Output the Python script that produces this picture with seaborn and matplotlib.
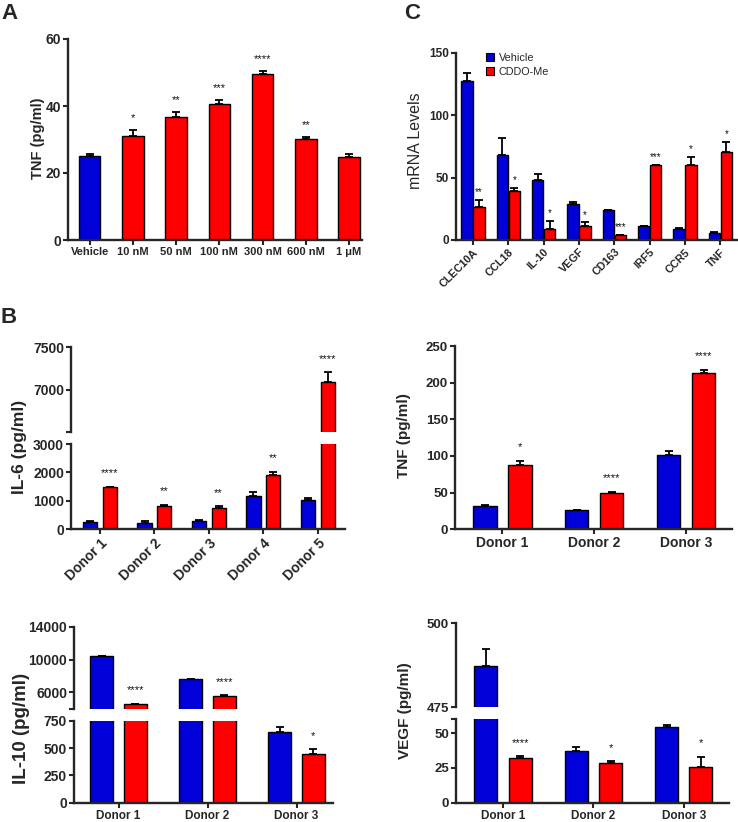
import numpy as np
import pandas as pd
import matplotlib
matplotlib.use("Agg")
import matplotlib.pyplot as plt
import seaborn as sns
from matplotlib.patches import Patch
from matplotlib.container import BarContainer

# ---------------- data ----------------
a_labels = ["Vehicle", "10 nM", "50 nM", "100 nM", "300 nM", "600 nM", "1 μM"]
a_tnf = [25.0, 31.0, 36.8, 40.5, 49.5, 30.1, 24.8]
a_err = [0.8, 1.7, 1.5, 1.3, 1.0, 0.6, 1.0]
a_stars = ["", "*", "**", "***", "****", "**", ""]

c_genes = ["CLEC10A", "CCL18", "IL-10", "VEGF", "CD163", "IRF5", "CCR5", "TNF"]
c_vehicle = [127.3, 67.8, 48.0, 29.1, 23.8, 11.2, 8.5, 5.9]
c_vehicle_err = [6.1, 13.9, 4.6, 1.3, 0.3, 0.3, 1.4, 0.3]
c_cddo = [26.7, 39.2, 8.8, 11.5, 3.7, 59.8, 60.3, 70.7]
c_cddo_err = [5.3, 2.2, 6.2, 2.6, 0.2, 0.3, 6.4, 8.0]
c_stars = ["**", "*", "*", "*", "***", "***", "*", "*"]

donors5 = ["Donor 1", "Donor 2", "Donor 3", "Donor 4", "Donor 5"]
il6_vehicle = [258, 211, 281, 1184, 1043]
il6_vehicle_err = [20, 82, 40, 116, 47]
il6_cddo = [1477, 832, 762, 1922, 7085]
il6_cddo_err = [20, 35, 58, 105, 122]
il6_stars = ["****", "**", "**", "**", "****"]

donors3 = ["Donor 1", "Donor 2", "Donor 3"]
tnf_vehicle = [32.3, 25.9, 100.9]
tnf_vehicle_err = [0.7, 0.6, 6.4]
tnf_cddo = [87.7, 50.0, 213.6]
tnf_cddo_err = [5.9, 1.0, 4.1]
tnf_stars = ["*", "****", "****"]

il10_vehicle = [10366, 7585, 650]
il10_vehicle_err = [60, 60, 40]
il10_cddo = [4537, 5585, 445]
il10_cddo_err = [50, 50, 44]
il10_stars = ["****", "****", "*"]

vegf_vehicle = [487.4, 37.2, 54.2]
vegf_vehicle_err = [4.9, 2.9, 1.9]
vegf_cddo = [31.8, 28.9, 26.0]
vegf_cddo_err = [1.7, 1.0, 7.1]
vegf_stars = ["****", "*", "*"]

treatments = ["Vehicle", "CDDO-Me"]
BLUE = "#0000d8"
RED = "#ff0000"

# ---------------- style ----------------
sns.set_theme(style="ticks")
plt.rcParams["font.family"] = ["Liberation Sans", "DejaVu Sans"]
plt.rcParams["font.weight"] = "bold"

W, H = 738, 822
fig = plt.figure(figsize=(W / 100, H / 100), dpi=100)


def add_ax(l, t, r, b):
    return fig.add_axes([l / W, 1 - b / H, (r - l) / W, (b - t) / H])


def ftext(x, y, s, **kw):
    return fig.text(x / W, 1 - y / H, s, **kw)


def style(ax, bottom=True, ysize=10, xsize=8):
    for s in ["top", "right"]:
        ax.spines[s].set_visible(False)
    ax.spines["left"].set_linewidth(1.7)
    ax.spines["bottom"].set_linewidth(1.7)
    if not bottom:
        ax.spines["bottom"].set_visible(False)
        ax.tick_params(axis="x", bottom=False, labelbottom=False)
    ax.tick_params(axis="both", width=1.5, length=3.5, direction="out", pad=1.5)
    ax.tick_params(axis="y", labelsize=ysize)
    ax.tick_params(axis="x", labelsize=xsize)
    ax.set_xlabel("")
    ax.set_ylabel("")
    ax.patch.set_alpha(0)


def two_group_df(cats, v, ve, c, ce):
    rows = []
    for i, cat in enumerate(cats):
        rows.append((cat, "Vehicle", v[i], ve[i]))
        rows.append((cat, "CDDO-Me", c[i], ce[i]))
    return pd.DataFrame(rows, columns=["cat", "treat", "val", "err"])


def draw_pair(ax, df, cats, width, gap):
    sns.barplot(data=df, x="cat", y="val", hue="treat", order=cats,
                hue_order=treatments, palette=[BLUE, RED], width=width,
                gap=gap, edgecolor="black", linewidth=1.0, errorbar=None,
                legend=False, saturation=1, ax=ax)


def bar_info(ax, cats, df):
    """(x_center, value, err, cat, treat) for every drawn bar"""
    out = []
    for cont in ax.containers:
        if not isinstance(cont, BarContainer):
            continue
        for bar in cont:
            if bar is None:
                continue
            xc = bar.get_x() + bar.get_width() / 2
            k = int(round(xc))
            off = xc - k
            cat = cats[k]
            sub = df[df["cat"] == cat]
            if "treat" in df.columns:
                treat = "Vehicle" if off < 0 else "CDDO-Me"
                sub = sub[sub["treat"] == treat]
            else:
                treat = None
            r = sub.iloc[0]
            out.append((xc, r["val"], r["err"], cat, treat))
    return out


def add_errbars(ax, info):
    for xc, v, e, cat, treat in info:
        ax.errorbar([xc], [v], yerr=[[0], [e]], fmt="none", ecolor="black",
                    elinewidth=1.3, capsize=2.8, capthick=1.3, zorder=1)


def add_stars(axes_list, info, cats, stars, size=8, off=4):
    for xc, v, e, cat, treat in info:
        if treat == "Vehicle":
            continue
        s = stars[cats.index(cat)]
        if not s:
            continue
        top = v + e
        target = axes_list[-1]
        for a in axes_list:
            lo, hi = a.get_ylim()
            if lo <= top <= hi:
                target = a
        target.annotate(s, (xc, top), xytext=(0, off), textcoords="offset points",
                        ha="center", va="bottom", fontsize=size,
                        fontweight="normal", color="#111111")


# ---------------- Panel A ----------------
dfa = pd.DataFrame({"cat": a_labels, "val": a_tnf, "err": a_err})
axA = add_ax(68, 39, 362, 240)
sns.barplot(data=dfa, x="cat", y="val", hue="cat", order=a_labels,
            hue_order=a_labels, palette=[BLUE] + [RED] * 6, width=0.5,
            edgecolor="black", linewidth=1.0, errorbar=None, legend=False,
            saturation=1, ax=axA)
axA.set_xlim(-0.5, 6.3)
axA.set_ylim(0, 60)
axA.set_yticks([0, 20, 40, 60])
style(axA, ysize=10, xsize=8)
infoA = bar_info(axA, a_labels, dfa)
add_errbars(axA, infoA)
add_stars([axA], infoA, a_labels, a_stars, size=8, off=5)
ftext(38, 138, "TNF (pg/ml)", rotation=90, ha="center", va="center", fontsize=10.5)

# ---------------- Panel C ----------------
dfc = two_group_df(c_genes, c_vehicle, c_vehicle_err, c_cddo, c_cddo_err)
axC = add_ax(456, 52.7, 738, 240)
draw_pair(axC, dfc, c_genes, width=0.68, gap=0.05)
axC.set_xlim(-0.48, 7.5)
axC.set_ylim(0, 150)
axC.set_yticks([0, 50, 100, 150])
style(axC, ysize=8.5, xsize=7.8)
for lbl in axC.get_xticklabels():
    lbl.set_rotation(45)
    lbl.set_ha("right")
    lbl.set_rotation_mode("anchor")
infoC = bar_info(axC, c_genes, dfc)
add_errbars(axC, infoC)
add_stars([axC], infoC, c_genes, c_stars, size=7, off=2)
ftext(415, 141, "mRNA Levels", rotation=90, ha="center", va="center",
      fontsize=11.5, fontweight="normal")
handles = [Patch(facecolor=BLUE, edgecolor="black", linewidth=0.8, label="Vehicle"),
           Patch(facecolor=RED, edgecolor="black", linewidth=0.8, label="CDDO-Me")]
leg = axC.legend(handles=handles, loc="upper left", bbox_to_anchor=((476 - 456) / 282, 1.05),
                 frameon=False, handlelength=0.8, handleheight=0.8, handletextpad=0.4,
                 labelspacing=0.35, prop={"size": 7.8, "weight": "normal"})

# ---------------- Panel B: IL-6 (broken) ----------------
df6 = two_group_df(donors5, il6_vehicle, il6_vehicle_err, il6_cddo, il6_cddo_err)
ax6u = add_ax(71, 347.3, 345, 431.7)
ax6l = add_ax(71, 444, 345, 529.3)
for a in (ax6u, ax6l):
    draw_pair(a, df6, donors5, width=0.72, gap=0.28)
    a.set_xlim(-0.53, 4.5)
ax6u.set_ylim(6500, 7500)
ax6u.set_yticks([6500, 7000, 7500])
ax6u.set_yticklabels(["", "7000", "7500"])
ax6l.set_ylim(0, 3000)
ax6l.set_yticks([0, 1000, 2000, 3000])
style(ax6u, bottom=False, ysize=10)
style(ax6l, ysize=10, xsize=10)
for lbl in ax6l.get_xticklabels():
    lbl.set_rotation(45)
    lbl.set_ha("right")
    lbl.set_rotation_mode("anchor")
info6 = bar_info(ax6l, donors5, df6)
for a in (ax6u, ax6l):
    add_errbars(a, info6)
add_stars([ax6l, ax6u], info6, donors5, il6_stars, size=8, off=6)
ftext(20, 447, "IL-6 (pg/ml)", rotation=90, ha="center", va="center", fontsize=12.5)

# ---------------- Panel B: TNF ----------------
dft = two_group_df(donors3, tnf_vehicle, tnf_vehicle_err, tnf_cddo, tnf_cddo_err)
axT = add_ax(455, 346, 732, 529.3)
draw_pair(axT, dft, donors3, width=0.76, gap=0.33)
axT.set_xlim(-0.516, 2.5)
axT.set_ylim(0, 250)
axT.set_yticks([0, 50, 100, 150, 200, 250])
style(axT, ysize=9.5, xsize=10)
infoT = bar_info(axT, donors3, dft)
add_errbars(axT, infoT)
add_stars([axT], infoT, donors3, tnf_stars, size=8, off=6)
ftext(404, 436, "TNF (pg/ml)", rotation=90, ha="center", va="center", fontsize=11)

# ---------------- Panel B: IL-10 (broken) ----------------
df10 = two_group_df(donors3, il10_vehicle, il10_vehicle_err, il10_cddo, il10_cddo_err)
ax10u = add_ax(74, 626.7, 333, 708.7)
ax10l = add_ax(74, 720.7, 333, 802.7)
for a in (ax10u, ax10l):
    draw_pair(a, df10, donors3, width=0.76, gap=0.33)
    a.set_xlim(-0.5, 2.41)
ax10u.set_ylim(4000, 14000)
ax10u.set_yticks([4000, 6000, 10000, 14000])
ax10u.set_yticklabels(["", "6000", "10000", "14000"])
ax10l.set_ylim(0, 750)
ax10l.set_yticks([0, 250, 500, 750])
style(ax10u, bottom=False, ysize=10)
style(ax10l, ysize=10, xsize=8.5)
info10 = bar_info(ax10l, donors3, df10)
for a in (ax10u, ax10l):
    add_errbars(a, info10)
add_stars([ax10l, ax10u], info10, donors3, il10_stars, size=8, off=6)
ftext(22, 728, "IL-10 (pg/ml)", rotation=90, ha="center", va="center", fontsize=13.5)

# ---------------- Panel B: VEGF (broken) ----------------
dfv = two_group_df(donors3, vegf_vehicle, vegf_vehicle_err, vegf_cddo, vegf_cddo_err)
axVu = add_ax(456, 623.3, 729, 707.3)
axVl = add_ax(456, 719.3, 729, 802.7)
for a in (axVu, axVl):
    draw_pair(a, dfv, donors3, width=0.76, gap=0.33)
    a.set_xlim(-0.52, 2.5)
axVu.set_ylim(475, 500)
axVu.set_yticks([475, 500])
axVl.set_ylim(0, 60)
axVl.set_yticks([0, 25, 50, 60])
axVl.set_yticklabels(["0", "25", "50", ""])
style(axVu, bottom=False, ysize=9.5)
style(axVl, ysize=9.5, xsize=8.5)
infoV = bar_info(axVl, donors3, dfv)
for a in (axVu, axVl):
    add_errbars(a, infoV)
add_stars([axVl, axVu], infoV, donors3, vegf_stars, size=8, off=6)
ftext(405, 711, "VEGF (pg/ml)", rotation=90, ha="center", va="center", fontsize=11)

# ---------------- panel letters ----------------
ftext(1, 3, "A", ha="left", va="top", fontsize=16)
ftext(404, 3, "C", ha="left", va="top", fontsize=16)
ftext(1, 307, "B", ha="left", va="top", fontsize=16)

fig.savefig("out.png", dpi=100)
